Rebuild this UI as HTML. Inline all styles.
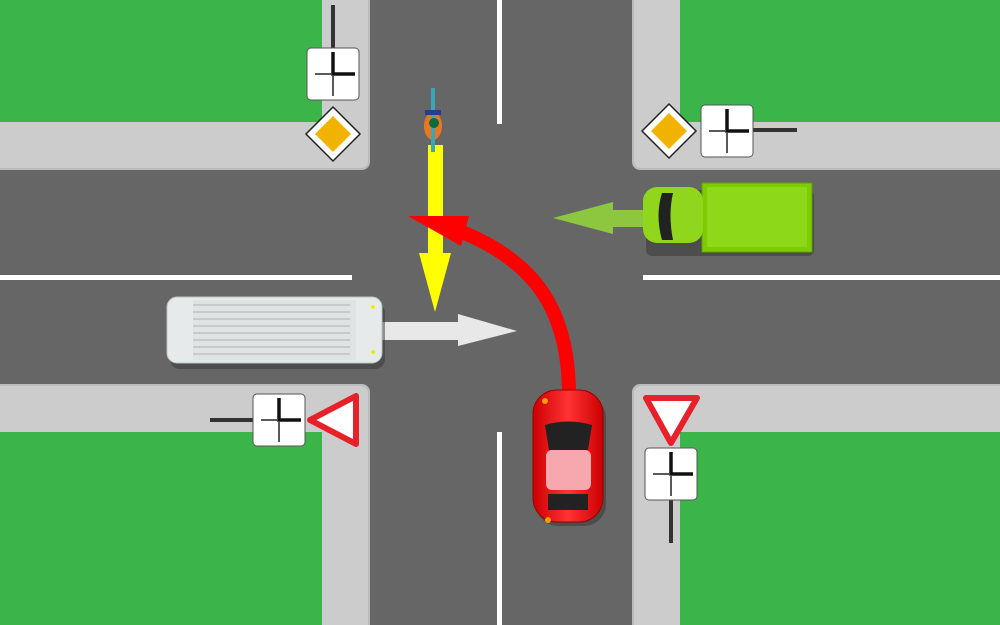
<!DOCTYPE html>
<html><head><meta charset="utf-8"><style>html,body{margin:0;padding:0;background:#666}svg{display:block}</style></head>
<body>
<svg width="1000" height="625" viewBox="0 0 1000 625" xmlns="http://www.w3.org/2000/svg">
<defs>
<g id="plate">
<rect x="0" y="0" width="52" height="52" rx="4" fill="#fff" stroke="#555" stroke-width="1"/>
<line x1="8" y1="26" x2="24" y2="26" stroke="#222" stroke-width="1.5"/>
<line x1="26" y1="28" x2="26" y2="48" stroke="#222" stroke-width="1.5"/>
<path d="M26 4 V26 H48" fill="none" stroke="#111" stroke-width="3.5"/>
</g>
<linearGradient id="car" x1="0" x2="1"><stop offset="0" stop-color="#c00"/><stop offset="0.5" stop-color="#f33"/><stop offset="1" stop-color="#c00"/></linearGradient>
</defs>
<rect width="1000" height="625" fill="#666"/>
<!-- sidewalks -->
<rect x="-10" y="-10" width="380" height="180" rx="8" fill="#bbb"/>
<rect x="-10" y="-10" width="378" height="178" rx="7" fill="#ccc"/>
<rect x="632" y="-10" width="380" height="180" rx="8" fill="#bbb"/>
<rect x="634" y="-10" width="378" height="178" rx="7" fill="#ccc"/>
<rect x="-10" y="384" width="380" height="260" rx="8" fill="#bbb"/>
<rect x="-10" y="386" width="378" height="258" rx="7" fill="#ccc"/>
<rect x="632" y="384" width="380" height="260" rx="8" fill="#bbb"/>
<rect x="634" y="386" width="378" height="258" rx="7" fill="#ccc"/>
<!-- grass -->
<rect x="0" y="0" width="322" height="122" fill="#3bb54a"/>
<rect x="680" y="0" width="320" height="122" fill="#3bb54a"/>
<rect x="0" y="432" width="322" height="193" fill="#3bb54a"/>
<rect x="680" y="432" width="320" height="193" fill="#3bb54a"/>
<!-- markings -->
<rect x="497" y="0" width="5" height="124" fill="#fff"/>
<rect x="497" y="432" width="5" height="193" fill="#fff"/>
<rect x="0" y="275" width="352" height="5" fill="#fff"/>
<rect x="643" y="275" width="357" height="5" fill="#fff"/>
<!-- signs top-left -->
<rect x="331" y="5" width="4" height="45" fill="#333"/>
<use href="#plate" x="307" y="48"/>
<polygon points="333,107 360,134 333,161 306,134" fill="#fff" stroke="#222" stroke-width="1.5"/>
<polygon points="333,116 351,134 333,152 315,134" fill="#f2b300"/>
<!-- top-right -->
<rect x="753" y="128" width="44" height="4" fill="#333"/>
<use href="#plate" x="701" y="105"/>
<polygon points="669,104 696,131 669,158 642,131" fill="#fff" stroke="#222" stroke-width="1.5"/>
<polygon points="669,113 687,131 669,149 651,131" fill="#f2b300"/>
<!-- bottom-left -->
<rect x="210" y="418" width="44" height="4" fill="#333"/>
<use href="#plate" x="253" y="394"/>
<polygon points="310,420 356,396 356,444" fill="#fff" stroke="#e8202a" stroke-width="6" stroke-linejoin="round"/>
<!-- bottom-right -->
<rect x="669" y="498" width="4" height="45" fill="#333"/>
<use href="#plate" x="645" y="448"/>
<polygon points="646,398 697,398 671,443" fill="#fff" stroke="#e8202a" stroke-width="6" stroke-linejoin="round"/>
<!-- yellow arrow -->
<rect x="428" y="145" width="15" height="110" fill="#ff0"/>
<polygon points="419,253 451,253 435,312" fill="#ff0"/>
<!-- white arrow -->
<rect x="380" y="322" width="80" height="18" fill="#e8e8e8"/>
<polygon points="458,314 458,346 517,331" fill="#e8e8e8"/>
<!-- green arrow -->
<rect x="610" y="210" width="36" height="17" fill="#8dc63f"/>
<polygon points="613,202 613,234 553,218" fill="#8dc63f"/>
<!-- red arrow -->
<path d="M569,395 C569,310 535,262 462,232" fill="none" stroke="#f00" stroke-width="14"/>
<polygon points="408,216 469,216 461,246" fill="#f00"/>
<!-- bike -->
<ellipse cx="433" cy="126" rx="9" ry="14" fill="#e87722"/>
<rect x="431" y="88" width="4" height="64" fill="#3aa6b9"/>
<rect x="425" y="110" width="16" height="5" fill="#2a3a9a"/>
<circle cx="434" cy="123" r="5" fill="#0a6b3a"/>
<!-- van -->
<rect x="170" y="303" width="215" height="66" rx="10" fill="#333" opacity="0.5"/>
<rect x="167" y="297" width="215" height="66" rx="10" fill="#e6eaea" stroke="#b8c4c4"/>
<rect x="193" y="300" width="163" height="60" fill="#dfe3e3"/>
<g stroke="#c5cbcb" stroke-width="2">
<line x1="193" y1="305" x2="350" y2="305"/><line x1="193" y1="312" x2="350" y2="312"/><line x1="193" y1="319" x2="350" y2="319"/><line x1="193" y1="326" x2="350" y2="326"/><line x1="193" y1="333" x2="350" y2="333"/><line x1="193" y1="340" x2="350" y2="340"/><line x1="193" y1="347" x2="350" y2="347"/><line x1="193" y1="354" x2="350" y2="354"/></g>
<circle cx="373" cy="307" r="2" fill="#ee0"/><circle cx="373" cy="352" r="2" fill="#ee0"/>
<!-- truck -->
<rect x="646" y="190" width="168" height="66" rx="6" fill="#333" opacity="0.5"/>
<rect x="702" y="183" width="110" height="69" fill="#7ccc00" stroke="#5fa000"/>
<rect x="707" y="187" width="100" height="60" fill="#8ed81a"/>
<rect x="643" y="187" width="60" height="56" rx="14" fill="#8fd61c"/>
<path d="M662 193 Q655 215 662 240 L673 240 Q668 215 673 193 Z" fill="#222"/>
<!-- red car -->
<rect x="536" y="396" width="70" height="130" rx="22" fill="#333" opacity="0.5"/>
<rect x="533" y="390" width="70" height="132" rx="24" fill="url(#car)" stroke="#900"/>
<path d="M545 425 Q568 418 592 425 L588 450 L549 450 Z" fill="#222"/>
<rect x="546" y="450" width="45" height="40" rx="6" fill="#f7a7ae"/>
<path d="M548 494 L588 494 L588 510 L548 510 Z" fill="#222"/>
<circle cx="545" cy="401" r="3" fill="#ff9a00"/><circle cx="548" cy="520" r="3" fill="#ff9a00"/>
</svg>
</body></html>
